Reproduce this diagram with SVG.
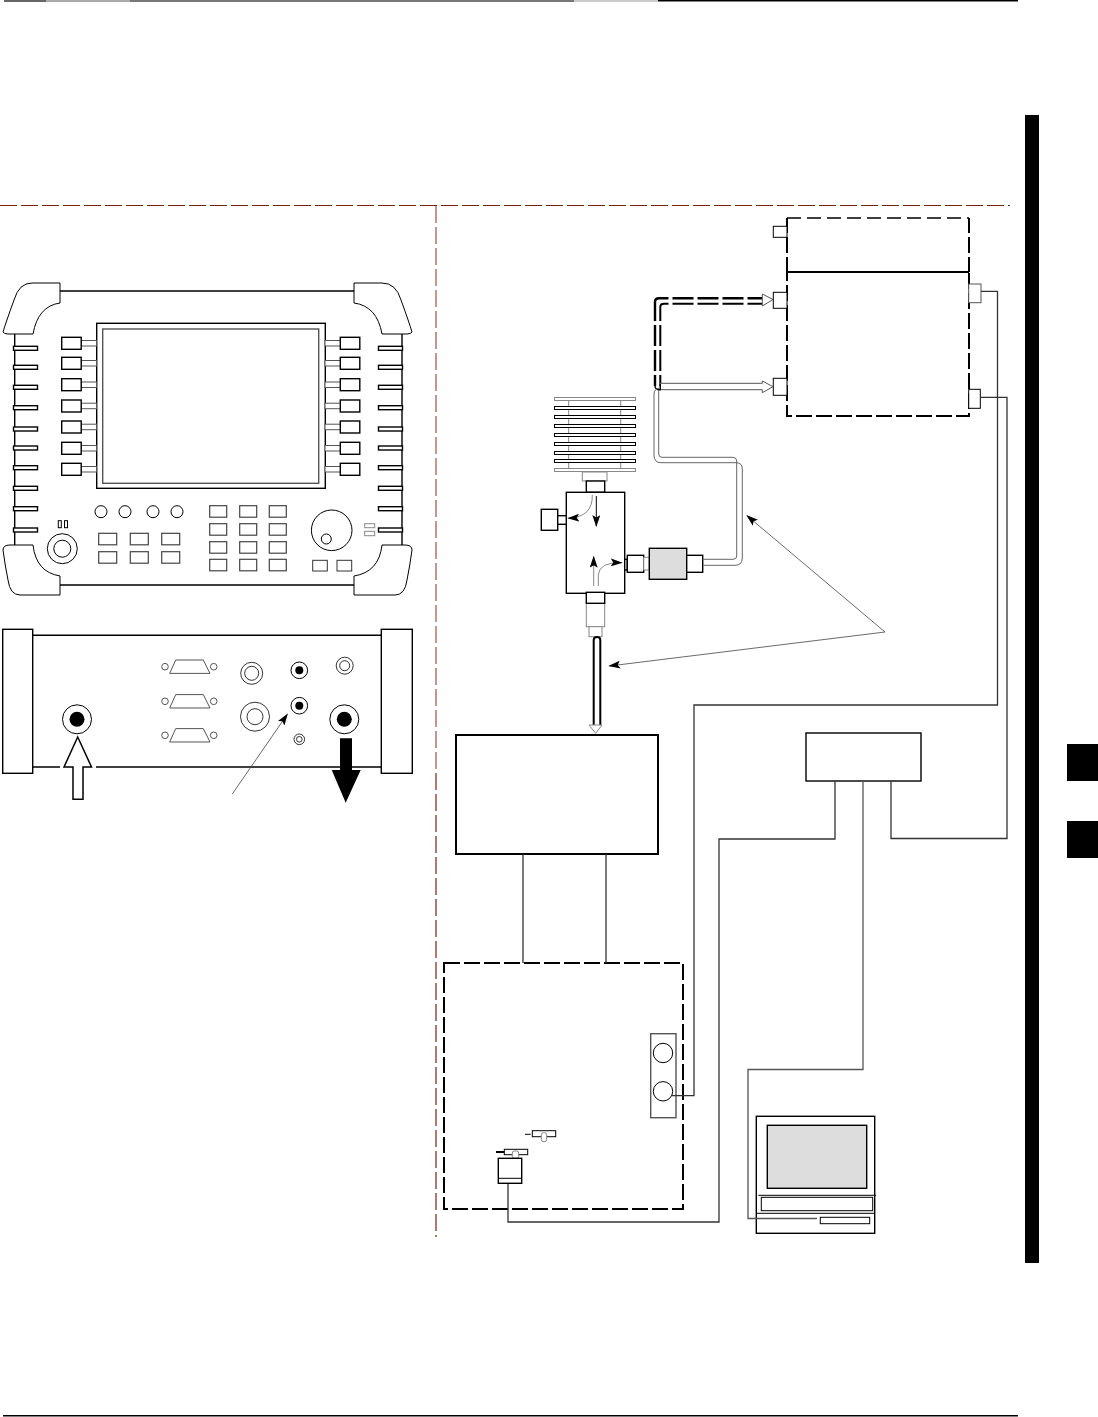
<svg xmlns="http://www.w3.org/2000/svg" width="1098" height="1417" viewBox="0 0 1098 1417">
<style>
.s{fill:#fff;stroke:#000;stroke-width:1}
.n{fill:none;stroke:#000;stroke-width:1}
.m{fill:#fff;stroke:#000;stroke-width:1.4}
.t{fill:#fff;stroke:#000;stroke-width:2}
.g{fill:#fff;stroke:#888;stroke-width:1}
.gn{fill:none;stroke:#888;stroke-width:1}
.d{fill:#ddd;stroke:#000;stroke-width:1.4}
.k{fill:#000;stroke:none}
.w{fill:none;stroke:#333;stroke-width:1.3}
.dash{fill:none;stroke:#000;stroke-width:2;stroke-dasharray:16 4}
.tube{fill:none;stroke:#000;stroke-width:2;stroke-dasharray:21 4}
.cut{fill:none;stroke:#7a2010;stroke-width:1.200;stroke-dasharray:17 4}
</style>
<defs>
<marker id="ah" viewBox="0 0 12 8" refX="11" refY="4" markerWidth="12" markerHeight="8" markerUnits="userSpaceOnUse" orient="auto"><path d="M0 0L12 4L0 8L2.5 4Z" fill="#000"/></marker>
<rect id="notch" width="24" height="4"/>
<rect id="soft" width="19.5" height="12"/>
<rect id="stub" width="15.5" height="5.5"/>
<rect id="keyA" width="18" height="11.5"/>
<rect id="keyB" width="17" height="11.5"/>
<g id="dsub"><circle cx="165" cy="0" r="3.3" class="s" style="stroke:#555"/><circle cx="213.7" cy="0" r="3.3" class="s" style="stroke:#555"/><path d="M175.7-6.7H203.3L210 6.700H169.7Z" class="g" style="stroke:#555"/></g>
</defs>

<g id="page-rules">
<rect x="4" y="0" width="42" height="2" fill="#666"/><rect x="46" y="0" width="84" height="2" fill="#aaa"/><rect x="130" y="0" width="444" height="2" fill="#777"/><rect x="574" y="0" width="84" height="2" fill="#ccc"/><rect x="658" y="0" width="360" height="1.5" fill="#000"/>
<rect x="3" y="1415" width="1015" height="1.5" fill="#000"/>
<rect x="1025" y="115" width="14" height="1148" class="k"/>
<rect x="1067" y="744" width="31" height="37" class="k"/>
<rect x="1067" y="821" width="31" height="37" class="k"/>
<path d="M0 205.500H1010" class="cut"/>
<path d="M436 206V773" class="cut" style="stroke:#c9968c;stroke-width:2"/>
<path d="M436 773V1237" class="cut"/>
</g>

<g id="instrument-front">
<path d="M60 291H355M60 585H355M14.700 334V545M402 334V545" class="m"/>
<path d="M60 283H32Q19 283 14 300Q6 322 3 332Q4 334 8 334H33Q38 306 60 303Z" class="s"/>
<path d="M354 283H382Q396 283 401 300Q409 322 412 332Q411 334 407 334H382Q377 306 354 303Z" class="s"/>
<path d="M60 595H20Q10 595 8 580Q5 565 3 550Q3 545 10 545H33Q36 572 60 576Z" class="s"/>
<path d="M354 595H395Q405 595 407 580Q410 565 412 550Q412 545 405 545H382Q379 572 354 576Z" class="s"/>
<g class="m">
<use href="#notch" x="13.500" y="346.300"/><use href="#notch" x="13.500" y="365.300"/><use href="#notch" x="13.500" y="385.300"/><use href="#notch" x="13.500" y="405.700"/><use href="#notch" x="13.500" y="427"/><use href="#notch" x="13.500" y="446"/><use href="#notch" x="13.500" y="465.700"/><use href="#notch" x="13.500" y="486.300"/><use href="#notch" x="13.500" y="506.700"/><use href="#notch" x="13.500" y="528"/>
<use href="#notch" x="378.500" y="346.300"/><use href="#notch" x="378.500" y="365.300"/><use href="#notch" x="378.500" y="385.300"/><use href="#notch" x="378.500" y="405.700"/><use href="#notch" x="378.500" y="427"/><use href="#notch" x="378.500" y="446"/><use href="#notch" x="378.500" y="465.700"/><use href="#notch" x="378.500" y="486.300"/><use href="#notch" x="378.500" y="506.700"/><use href="#notch" x="378.500" y="528"/>
</g>
<rect x="96.700" y="323.300" width="228.600" height="165" class="m"/>
<rect x="102.700" y="329" width="216" height="154.300" fill="#fff" stroke="#555" stroke-width="1.400"/>
<g class="s" style="stroke:#555">
<use href="#stub" x="81" y="340.500"/><use href="#stub" x="81" y="360.500"/><use href="#stub" x="81" y="382"/><use href="#stub" x="81" y="403.200"/><use href="#stub" x="81" y="424.200"/><use href="#stub" x="81" y="445.500"/><use href="#stub" x="81" y="466.500"/>
<use href="#stub" x="325" y="340.500"/><use href="#stub" x="325" y="360.500"/><use href="#stub" x="325" y="382"/><use href="#stub" x="325" y="403.200"/><use href="#stub" x="325" y="424.200"/><use href="#stub" x="325" y="445.500"/><use href="#stub" x="325" y="466.500"/>
</g>
<g class="m">
<use href="#soft" x="61.700" y="337.300"/><use href="#soft" x="61.700" y="357.300"/><use href="#soft" x="61.700" y="378.700"/><use href="#soft" x="61.700" y="400"/><use href="#soft" x="61.700" y="421"/><use href="#soft" x="61.700" y="442.300"/><use href="#soft" x="61.700" y="463.300"/>
<use href="#soft" x="340.300" y="337.300"/><use href="#soft" x="340.300" y="357.300"/><use href="#soft" x="340.300" y="378.700"/><use href="#soft" x="340.300" y="400"/><use href="#soft" x="340.300" y="421"/><use href="#soft" x="340.300" y="442.300"/><use href="#soft" x="340.300" y="463.300"/>
</g>
<circle cx="101" cy="511.700" r="6" class="s"/><circle cx="125" cy="511.700" r="6" class="s"/><circle cx="153" cy="511.700" r="6" class="s"/><circle cx="177" cy="511.700" r="6" class="s"/>
<rect x="58.300" y="520.700" width="3" height="7" class="s"/><rect x="64.500" y="520.700" width="3" height="7" class="s"/>
<circle cx="62.300" cy="548.700" r="15" class="s"/><circle cx="62.300" cy="548.700" r="8.500" class="s"/>
<g class="s" style="stroke:#444;stroke-width:1.200">
<use href="#keyA" x="98.700" y="533.300"/><use href="#keyA" x="130.300" y="533.300"/><use href="#keyA" x="161.700" y="533.300"/>
<use href="#keyA" x="98.700" y="551.700"/><use href="#keyA" x="130.300" y="551.700"/><use href="#keyA" x="161.700" y="551.700"/>
<use href="#keyB" x="209.700" y="505.700"/><use href="#keyB" x="239.700" y="505.700"/><use href="#keyB" x="269.300" y="505.700"/>
<use href="#keyB" x="209.700" y="523.700"/><use href="#keyB" x="239.700" y="523.700"/><use href="#keyB" x="269.300" y="523.700"/>
<use href="#keyB" x="209.700" y="541.700"/><use href="#keyB" x="239.700" y="541.700"/><use href="#keyB" x="269.300" y="541.700"/>
<use href="#keyB" x="209.700" y="559.300"/><use href="#keyB" x="239.700" y="559.300"/><use href="#keyB" x="269.300" y="559.300"/>
</g>
<circle cx="331.700" cy="530.300" r="20.300" class="s"/><circle cx="326.300" cy="539" r="5" class="s"/>
<rect x="364.700" y="523.700" width="10" height="4" class="g"/><rect x="364.700" y="531.300" width="10" height="4.400" class="g"/>
<rect x="312.700" y="560.300" width="14.600" height="10.700" class="s" style="stroke:#333"/><rect x="337" y="560.300" width="14.700" height="10.700" class="s" style="stroke:#333"/>
</g>

<g id="instrument-rear">
<path d="M32 635.300H382M32 767H382" class="m"/>
<rect x="2.700" y="629.300" width="30" height="144" class="m"/>
<rect x="381.300" y="629.300" width="31" height="144" class="m"/>
<use href="#dsub" y="666.700"/><use href="#dsub" y="701.300"/><use href="#dsub" y="735.300"/>
<circle cx="77" cy="719.300" r="14.500" class="s"/><circle cx="77" cy="719.300" r="7.500" class="k"/>
<circle cx="344.300" cy="719.300" r="14.500" class="s"/><circle cx="344.300" cy="719.300" r="7.500" class="k"/>
<g style="stroke-width:.8">
<circle cx="251.700" cy="673.300" r="11" class="s" style="stroke-width:.8"/><circle cx="251.700" cy="673.300" r="7" class="s" style="stroke-width:.8"/>
<circle cx="255" cy="716.700" r="14.500" class="s" style="stroke-width:.8"/><circle cx="255" cy="716.700" r="8" class="s" style="stroke-width:.8"/>
</g>
<circle cx="299.300" cy="670.300" r="8.300" class="s"/><circle cx="299.300" cy="670.300" r="4" class="k"/>
<circle cx="299.300" cy="705.700" r="8.300" class="s"/><circle cx="299.300" cy="705.700" r="4" class="k"/>
<circle cx="299.300" cy="739.300" r="5.300" class="s" style="stroke-width:.8"/><circle cx="299.300" cy="739.300" r="2.800" class="s" style="stroke-width:.8"/>
<circle cx="344.700" cy="665.700" r="8.500" class="s" style="stroke-width:.8"/><circle cx="344.700" cy="665.700" r="5" class="s" style="stroke-width:.8"/>
<path d="M60 767H96" stroke="#fff" stroke-width="3"/>
<path d="M77.700 737L91.500 767H83V799.300H73V767H64Z" class="t" style="stroke-width:1.500"/>
<path d="M340 738.300H352V770H360.700L345.700 802.700L331.700 770H340Z" class="k"/>
<path d="M232.300 794L287.300 714.300" class="n" style="stroke:#444;stroke-width:.8" marker-end="url(#ah)"/>
</g>

<g id="power-meter">
<path d="M787 218H969" class="n" style="stroke-dasharray:14 6;stroke-width:1.500"/>
<path d="M787 218V272M969 218V272" class="dash" style="stroke-dashoffset:-19"/>
<path d="M787 272V416H969V272" class="dash" style="stroke-dashoffset:7"/>
<path d="M787 272H969" class="n" style="stroke-width:2"/>
<rect x="773.300" y="226.300" width="13.700" height="11" class="s"/>
<rect x="773.300" y="292.300" width="13.700" height="16" class="s"/>
<rect x="773.300" y="378.300" width="13.700" height="17" class="s"/>
<rect x="968.700" y="284" width="12.300" height="18.700" class="s" style="stroke:#555"/>
<rect x="968.700" y="389.300" width="11.600" height="19" class="s"/>
</g>

<g id="attenuator">
<path d="M568.700 399V470M620.700 399V470" class="gn"/>
<rect x="554.500" y="397.500" width="81" height="3" class="g"/>
<rect x="554.500" y="406.500" width="81" height="3" class="s"/><rect x="554.500" y="415.500" width="81" height="3" class="s"/><rect x="554.500" y="424.500" width="81" height="3" class="s"/><rect x="554.500" y="433.500" width="81" height="3" class="s"/><rect x="554.500" y="442.500" width="81" height="3" class="s"/><rect x="554.500" y="451.500" width="81" height="3" class="s"/><rect x="554.500" y="459.500" width="81" height="3" class="s"/>
<rect x="554.500" y="468.500" width="81" height="3" class="g"/>
<rect x="582.300" y="472" width="24.700" height="9" class="g"/>
<rect x="586.300" y="481" width="18.400" height="11.300" class="m"/>
</g>

<g id="directional-coupler">
<rect x="566.300" y="492.300" width="58.400" height="101" class="m"/>
<rect x="541.300" y="509.300" width="16.400" height="21" class="m"/>
<rect x="557.700" y="515.700" width="8.600" height="8.600" class="m"/>
<rect x="624.700" y="559.300" width="2.600" height="10.700" class="m"/>
<rect x="627.300" y="555.300" width="16.400" height="17" class="m"/>
<rect x="643.700" y="557.300" width="5.600" height="12.700" class="g"/>
<rect x="649.300" y="548.300" width="37.400" height="31" class="d"/>
<rect x="686.700" y="555.300" width="16" height="17" class="m"/>
<rect x="586.300" y="603.300" width="18.400" height="23.400" class="g"/>
<rect x="586.300" y="592.300" width="18.400" height="11" class="m"/>
<rect x="589" y="626.700" width="13" height="10" class="g"/>
<path d="M596.300 496V526" class="n" marker-end="url(#ah)"/>
<path d="M592.300 495Q593 517 568.300 518.300" class="gn" marker-end="url(#ah)"/>
<path d="M593.700 586V556.700" class="gn" marker-end="url(#ah)"/>
<path d="M598.300 586V575Q599 562 621.700 562.700" class="gn" marker-end="url(#ah)"/>
</g>

<g id="transmitter-box"><rect x="456" y="735" width="202" height="119" class="t"/></g>
<g id="bts-box">
<rect x="444" y="963" width="239" height="246" class="dash"/>
<rect x="650.700" y="1033.700" width="25.300" height="84" class="m" style="stroke:#555"/>
<circle cx="663" cy="1053" r="9.700" class="s"/><circle cx="663" cy="1091.300" r="9.700" class="s"/>
<rect x="532.300" y="1130.700" width="23.400" height="6" class="s"/>
<path d="M525 1134.300H530.700" class="n"/>
<rect x="541.300" y="1132.700" width="5.400" height="9" rx="2" class="g"/>
<path d="M496 1152H504" class="n" style="stroke-width:2"/>
<rect x="504.300" y="1149.300" width="23.400" height="5.400" class="s"/>
<rect x="512.300" y="1151" width="6.400" height="7.300" rx="2" class="g"/>
<rect x="498.300" y="1158.300" width="23.400" height="25" class="m"/>
<path d="M498.300 1178.300H521.700" class="n"/>
</g>
<g id="signal-box"><rect x="806" y="733" width="115" height="48" class="m"/></g>
<g id="computer">
<rect x="756.300" y="1116.300" width="118.400" height="117" class="m"/>
<rect x="767.300" y="1125.300" width="99.400" height="63" class="d"/>
<path d="M758.300 1195.300H876M756.300 1213.300H874.700" class="n"/>
<rect x="761.300" y="1197.300" width="111.400" height="13.400" class="s"/>
<rect x="820.300" y="1217.300" width="49.400" height="6.400" class="s"/>
</g>

<g id="connectors">
<path d="M981 291.300H997.500V705H694V1095.700H672" class="w"/>
<path d="M980.300 397.300H1007V838.500H891V781" class="w"/>
<path d="M835 781V839H719V1222H508V1184" class="w"/>
<path d="M863 781V1069.500H748V1218.500H817" class="w" style="stroke:#555"/>
<path d="M523 854V963M606 854V963" class="w"/>
<path d="M762.500 298.300H659Q655 298.300 655 302V304" class="tube" style="stroke-dashoffset:6;stroke-width:2.400"/>
<path d="M762.500 303.700H664Q660.300 303.700 660.300 307V309" class="tube" style="stroke-dashoffset:6;stroke-width:2"/>
<path d="M762.500 298.300Q765 301 762.500 303.700" class="n"/>
<path d="M655 304V386" class="tube" style="stroke-dashoffset:4;stroke-width:2.400"/>
<path d="M660.300 309V386" class="tube" style="stroke-dashoffset:9;stroke-width:2"/>
<path d="M762.300 294L773 299.500L762.300 306Z" class="g" style="stroke:#555"/>
<path d="M660.300 383.300H762.300V381L773 386.700L762.300 392.700V389.700H660.300Z" class="g" style="stroke:#555"/>
<path d="M655 386Q655 390 660.300 389.700Q660.300 386 660.300 384" class="n" style="stroke-width:1.400"/>
<path d="M660 388Q654 389 654 394V455Q654 462.700 661 462.700H736Q742.300 462.700 742.300 469V558Q742.300 565.300 735 565.300H702.700" class="gn" style="stroke:#666"/>
<path d="M658.700 390V454Q658.700 457.300 662 457.300H733Q736.700 457.300 736.700 461V556Q736.700 559.300 733 559.300H702.700" class="gn" style="stroke:#666"/>
<path d="M593.700 725V640Q593.700 637 597 637Q600.300 637 600.300 640V725" class="n" style="stroke-width:2"/>
<path d="M589 725H602L595.700 733.300Z" class="g"/>
<path d="M885 632L747 515.700" class="n" style="stroke:#444;stroke-width:.8" marker-end="url(#ah)"/>
<path d="M885 632L609.300 666" class="n" style="stroke:#444;stroke-width:.8" marker-end="url(#ah)"/>
</g>
</svg>
